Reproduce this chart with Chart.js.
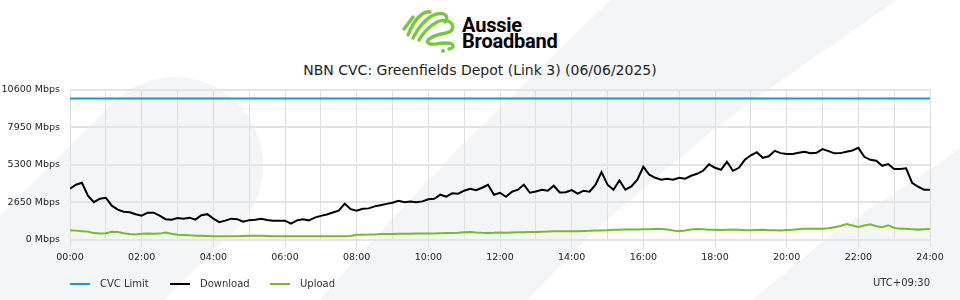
<!DOCTYPE html>
<html><head><meta charset="utf-8">
<script src="https://cdn.jsdelivr.net/npm/chart.js@4.4.1/dist/chart.umd.min.js"></script>
<style>
html,body{margin:0;padding:0;background:#fff;}
#wrap{position:relative;width:960px;height:300px;overflow:hidden;font-family:"DejaVu Sans",sans-serif;}
#bg{position:absolute;left:0;top:0;}
#c{position:absolute;left:0;top:0;}
#logoText{position:absolute;left:462px;top:17px;font:700 20px/16px Roboto,sans-serif;color:#000;letter-spacing:-0.2px;}
#title{position:absolute;left:0;width:960px;top:62px;text-align:center;font:14px/17px "DejaVu Sans",sans-serif;color:#222;}
#legend{position:absolute;left:70px;top:278px;height:12px;width:400px;font:10px/12px "DejaVu Sans",sans-serif;color:#333;}
.li{position:absolute;top:0;height:12px;white-space:nowrap;}
.sw{position:absolute;left:0;top:5px;width:20px;height:2px;}
.lt{position:absolute;left:30px;top:0;}
#tz{position:absolute;right:30px;top:277px;font:10px/12px "DejaVu Sans",sans-serif;color:#333;}
</style></head>
<body>
<div id="wrap">
<svg id="bg" width="960" height="300" xmlns="http://www.w3.org/2000/svg">
 <g fill="#f4f5f7">
  <line x1="175" y1="165" x2="-300" y2="640" stroke="#f4f5f7" stroke-width="176" stroke-linecap="round"/>
  <polygon points="610,0 897,0 753,100 713,130 595,230 527,300 320,300 363,250 457,150"/>
  <polygon points="960,148 940,163 837,230 752,300 960,300"/>
 </g>
 <g fill="none" stroke="#78c93a" stroke-width="3.4" stroke-linecap="round" stroke-linejoin="round">
  <path d="M404 29 L413 17"/>
  <path d="M408 35 Q414 20 421 15 Q426 11 430 12"/>
  <path d="M413 38 Q420 24 430 17 Q438 12 444 14 Q449 17 445 22"/>
  <path d="M419 40 Q426 28 437 22 Q447 18 452 24 Q455 31 446 33 Q433 35 428 40 Q426 45 436 44 Q447 42 452 44 Q455 48 449 49"/>
 </g>
 <circle cx="443" cy="51" r="2" fill="#78c93a"/>
</svg>
<div id="logoText">Aussie<br>Broadband</div>
<div id="title">NBN CVC: Greenfields Depot (Link 3) (06/06/2025)</div>
<canvas id="c" width="960" height="300"></canvas>
<div id="legend"></div>
<div id="tz">UTC+09:30</div>
</div>
<script>
// ---- data ----
const tickLabels = ['00:00','02:00','04:00','06:00','08:00','10:00','12:00','14:00','16:00','18:00','20:00','22:00','24:00'];
const yTicks = [0, 2650, 5300, 7950, 10600];
const cvcLimit = 10000;
const download = [3604,3887,4028,3109,2650,2897,2968,2403,2120,1979,
1943,1802,1696,1908,1908,1696,1449,1413,1534,1484,
1555,1413,1731,1802,1484,1237,1343,1484,1449,1272,
1378,1413,1470,1392,1343,1343,1343,1131,1364,1434,
1364,1555,1682,1781,1915,2049,2544,2155,2049,2191,
2212,2353,2438,2530,2615,2756,2650,2707,2650,2707,
2862,2897,3180,3039,3286,3251,3463,3604,3498,3675,
3887,3180,3321,3039,3392,3534,3887,3321,3413,3534,
3463,3816,3343,3357,3512,3251,3463,3392,3887,4784,
3887,3534,4191,3534,3767,4240,5159,4594,4381,4240,
4311,4240,4382,4311,4523,4664,4876,5335,5088,4947,
5512,4876,5088,5654,5972,6184,5795,5901,6290,6127,
6063,6063,6148,6219,6113,6148,6410,6269,6113,6127,
6219,6311,6502,5866,5654,5583,5230,5357,4996,4996,
5053,4028,3745,3534,3534];
const upload = [657,636,600,565,460,430,450,560,540,450,
400,360,420,430,420,424,500,420,350,330,
300,280,270,260,240,240,235,233,240,260,
270,280,270,250,233,240,233,240,233,233,
240,233,240,233,240,233,240,250,340,350,
353,370,390,400,400,410,420,420,424,430,
440,440,450,460,470,480,516,530,500,480,
473,480,500,490,510,516,520,530,540,560,
580,590,587,590,600,600,610,620,640,650,
670,690,700,707,710,720,730,740,750,756,
720,640,600,650,720,756,740,700,690,680,
700,707,690,660,670,680,690,670,660,650,
680,700,740,777,770,777,777,800,880,960,
1109,1000,897,1000,1081,950,870,1011,830,777,
777,740,707,740,756];
const sampleMinutes = download.map((_, i) => i * 10); // 10-minute samples
const seriesNames = ['CVC Limit', 'Download', 'Upload'];
const seriesColors = ['#0d9ad8', '#000000', '#76bc21'];

Chart.defaults.font.family = '"DejaVu Sans", sans-serif';
Chart.defaults.font.size = 9.5;
Chart.defaults.color = '#222';

const pts = arr => arr.map((v, i) => ({x: sampleMinutes[i], y: v}));

const chart = new Chart(document.getElementById('c'), {
  type: 'line',
  data: {
    datasets: [
      {label: seriesNames[0], data: [{x: 0, y: cvcLimit}, {x: 1440, y: cvcLimit}], borderColor: seriesColors[0], borderWidth: 2, pointRadius: 0},
      {label: seriesNames[1], data: pts(download), borderColor: seriesColors[1], borderWidth: 2, pointRadius: 0, tension: 0},
      {label: seriesNames[2], data: pts(upload), borderColor: seriesColors[2], borderWidth: 2, pointRadius: 0, tension: 0}
    ]
  },
  options: {
    responsive: false,
    animation: false,
    layout: {padding: {top: 90, right: 30, bottom: 33, left: 0}},
    plugins: {legend: {display: false}, tooltip: {enabled: false}, title: {display: false}},
    scales: {
      x: {
        type: 'linear', min: 0, max: 1440,
        ticks: {stepSize: 60, autoSkip: false, maxRotation: 0, color: '#222', padding: 4,
          callback: v => (v % 120 === 0 ? tickLabels[v / 120] : '')},
        grid: {color: '#dedede', lineWidth: 1, tickLength: 8,
          tickColor: ctx => (ctx.tick && ctx.tick.value % 120 === 0) ? '#dedede' : 'rgba(0,0,0,0)'},
        border: {display: false}
      },
      y: {
        min: yTicks[0], max: yTicks[yTicks.length - 1],
        afterBuildTicks: s => { s.ticks = yTicks.map(v => ({value: v})); },
        ticks: {padding: 10, color: '#222', callback: v => v + ' Mbps'},
        grid: {color: '#e4e4e4', lineWidth: 2, drawTicks: false},
        border: {display: false},
        afterFit: s => { s.width = 70; }
      }
    }
  }
});

// legend from datasets
const lg = document.getElementById('legend');
chart.data.datasets.forEach((ds, i) => {
  const d = document.createElement('div');
  d.className = 'li';
  d.style.left = (i * 100) + 'px';
  d.innerHTML = '<div class="sw" style="background:' + ds.borderColor + '"></div><div class="lt">' + ds.label + '</div>';
  lg.appendChild(d);
});
</script>
</body></html>
